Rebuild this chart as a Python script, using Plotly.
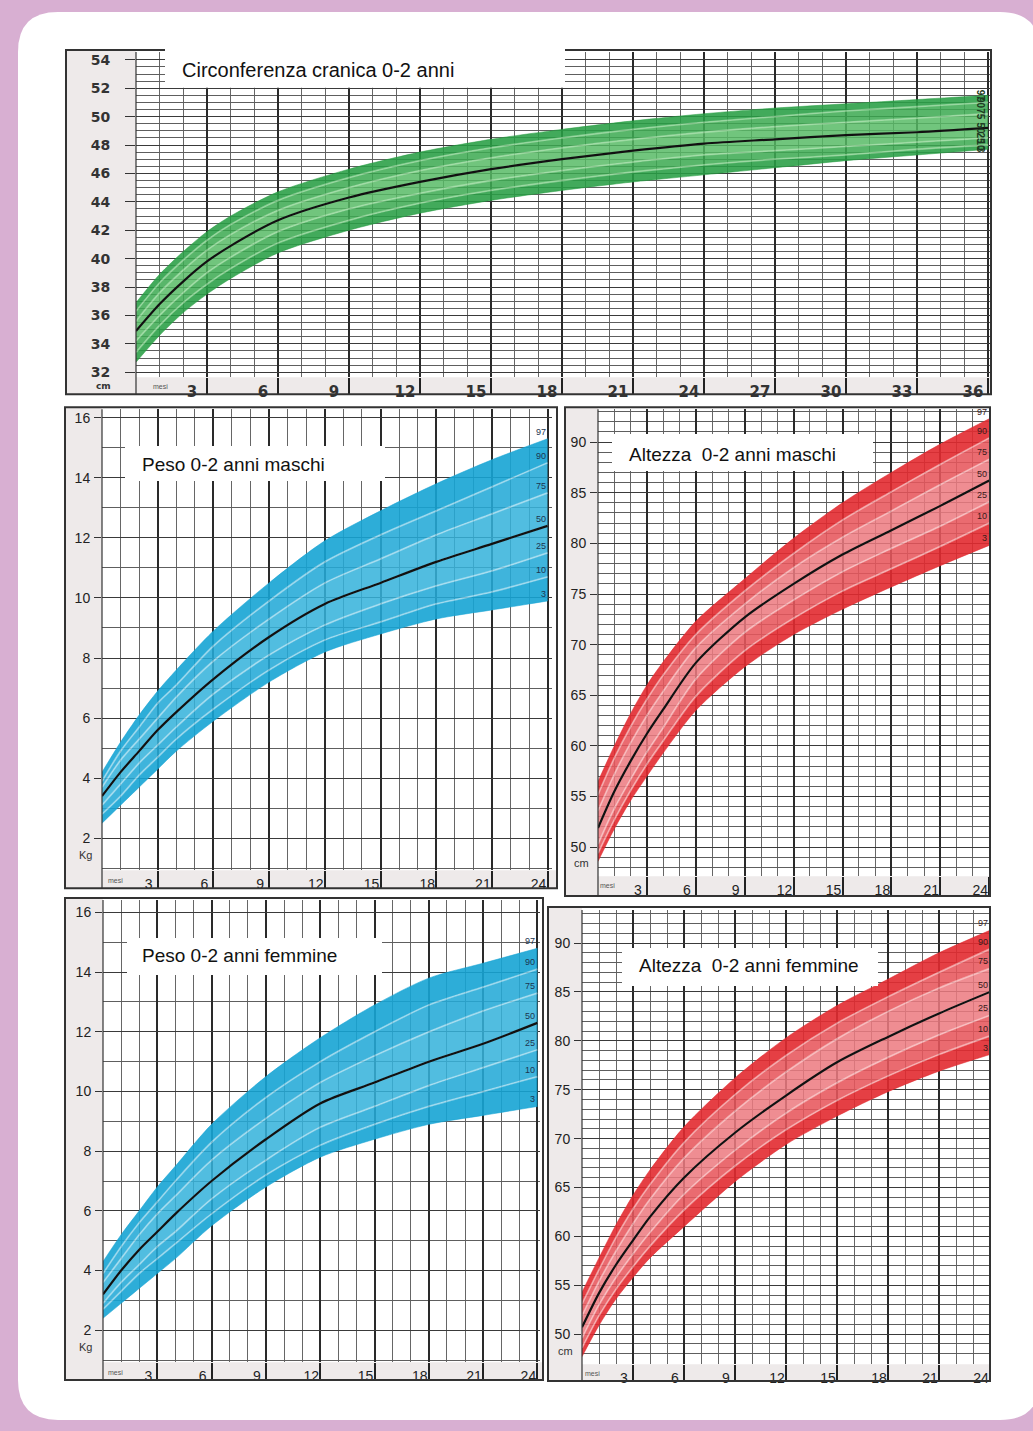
import plotly.graph_objects as go

W, H = 1033, 1431

# ----------------------------- data -----------------------------
percentiles = ["3", "10", "25", "50", "75", "90", "97"]

# Circonferenza cranica (cm), mesi 0-36
head_months = [0, 1, 2, 3, 4, 6, 9, 12, 15, 18, 21, 24, 27, 30, 33, 36]
head_p3 = [32.7, 34.6, 36.2, 37.5, 38.6, 40.4, 42.0, 43.2, 44.1, 44.8, 45.4, 45.9, 46.4, 46.9, 47.3, 47.7]
head_p10 = [33.4, 35.3, 36.9, 38.2, 39.3, 41.1, 42.7, 43.9, 44.8, 45.5, 46.1, 46.6, 47.0, 47.3, 47.7, 48.0]
head_p25 = [34.2, 36.0, 37.6, 39.0, 40.1, 41.9, 43.5, 44.6, 45.5, 46.2, 46.8, 47.3, 47.6, 47.9, 48.2, 48.5]
head_p50 = [34.9, 36.8, 38.4, 39.8, 40.9, 42.7, 44.3, 45.4, 46.3, 47.0, 47.6, 48.1, 48.4, 48.7, 48.9, 49.2]
head_p75 = [35.6, 37.6, 39.2, 40.6, 41.7, 43.4, 45.0, 46.2, 47.1, 47.8, 48.4, 48.9, 49.3, 49.6, 49.9, 50.2]
head_p90 = [36.3, 38.3, 39.9, 41.3, 42.4, 44.1, 45.7, 46.9, 47.8, 48.5, 49.1, 49.6, 50.0, 50.4, 50.7, 51.0]
head_p97 = [36.9, 38.9, 40.5, 41.9, 43.0, 44.7, 46.3, 47.5, 48.4, 49.1, 49.7, 50.2, 50.6, 50.9, 51.2, 51.5]

months = [0, 1, 2, 3, 4, 6, 9, 12, 15, 18, 21, 24]

# Peso maschi (kg)
pm_p3 = [2.5, 3.1, 3.7, 4.3, 4.9, 5.9, 7.2, 8.2, 8.8, 9.3, 9.6, 9.9]
pm_p10 = [2.8, 3.4, 4.1, 4.7, 5.3, 6.3, 7.6, 8.6, 9.2, 9.8, 10.2, 10.7]
pm_p25 = [3.1, 3.8, 4.5, 5.1, 5.7, 6.8, 8.1, 9.1, 9.8, 10.4, 10.9, 11.5]
pm_p50 = [3.4, 4.2, 4.9, 5.6, 6.2, 7.3, 8.7, 9.8, 10.5, 11.2, 11.8, 12.4]
pm_p75 = [3.7, 4.6, 5.3, 6.0, 6.7, 7.9, 9.3, 10.5, 11.3, 12.1, 12.8, 13.5]
pm_p90 = [3.9, 4.9, 5.7, 6.5, 7.1, 8.4, 9.9, 11.2, 12.1, 12.9, 13.7, 14.5]
pm_p97 = [4.2, 5.2, 6.1, 6.9, 7.6, 8.9, 10.5, 11.9, 12.9, 13.8, 14.6, 15.3]

# Altezza maschi (cm)
am_p3 = [48.6, 51.8, 54.6, 57.0, 59.3, 63.5, 67.8, 71.0, 73.5, 75.7, 77.8, 79.8]
am_p10 = [49.4, 52.7, 55.6, 58.2, 60.5, 64.9, 69.4, 72.6, 75.3, 77.5, 79.7, 82.0]
am_p25 = [50.3, 53.8, 56.7, 59.4, 61.8, 66.6, 71.2, 74.4, 77.2, 79.5, 81.7, 84.1]
am_p50 = [51.9, 55.5, 58.5, 61.2, 63.6, 68.2, 72.7, 76.0, 78.9, 81.3, 83.7, 86.2]
am_p75 = [53.6, 57.2, 60.3, 63.0, 65.4, 69.7, 74.0, 77.6, 80.6, 83.2, 85.8, 88.3]
am_p90 = [55.2, 58.8, 61.9, 64.6, 67.0, 71.0, 75.3, 79.0, 82.3, 85.1, 87.8, 90.4]
am_p97 = [56.5, 60.0, 63.2, 66.0, 68.3, 72.3, 76.5, 80.5, 84.0, 87.0, 89.8, 92.3]

# Peso femmine (kg)
pf_p3 = [2.4, 2.9, 3.4, 3.9, 4.4, 5.5, 6.8, 7.8, 8.4, 8.9, 9.2, 9.5]
pf_p10 = [2.7, 3.3, 3.9, 4.4, 4.9, 5.9, 7.2, 8.2, 8.9, 9.5, 10.0, 10.5]
pf_p25 = [2.9, 3.6, 4.2, 4.8, 5.3, 6.4, 7.7, 8.8, 9.5, 10.2, 10.8, 11.4]
pf_p50 = [3.2, 4.0, 4.7, 5.3, 5.9, 7.0, 8.4, 9.6, 10.3, 11.0, 11.6, 12.3]
pf_p75 = [3.6, 4.4, 5.2, 5.9, 6.5, 7.7, 9.1, 10.3, 11.2, 12.0, 12.7, 13.3]
pf_p90 = [3.9, 4.8, 5.6, 6.3, 7.0, 8.3, 9.8, 11.0, 12.0, 12.9, 13.5, 14.1]
pf_p97 = [4.3, 5.2, 6.0, 6.8, 7.5, 8.9, 10.5, 11.8, 12.9, 13.8, 14.3, 14.8]

# Altezza femmine (cm)
af_p3 = [47.7, 50.9, 53.6, 55.8, 57.8, 61.0, 65.6, 69.4, 72.3, 74.8, 76.9, 78.6]
af_p10 = [48.6, 51.9, 54.6, 56.9, 59.0, 62.7, 67.2, 70.9, 73.9, 76.4, 78.6, 80.5]
af_p25 = [49.6, 53.0, 55.8, 58.2, 60.4, 64.3, 68.8, 72.6, 75.7, 78.3, 80.6, 82.6]
af_p50 = [50.7, 54.2, 57.1, 59.6, 62.0, 66.0, 70.6, 74.4, 77.8, 80.4, 82.8, 85.0]
af_p75 = [51.9, 55.4, 58.5, 61.3, 63.8, 68.0, 72.8, 76.8, 80.2, 83.0, 85.4, 87.4]
af_p90 = [53.1, 56.6, 59.9, 62.8, 65.3, 69.6, 74.5, 78.5, 81.8, 84.5, 87.0, 89.4]
af_p97 = [54.3, 57.8, 61.2, 64.2, 66.8, 71.2, 76.2, 80.3, 83.6, 86.3, 89.0, 91.3]

head_ticks = [32, 34, 36, 38, 40, 42, 44, 46, 48, 50, 52, 54]
weight_ticks = [2, 4, 6, 8, 10, 12, 14, 16]
height_ticks = [50, 55, 60, 65, 70, 75, 80, 85, 90]
month_ticks_36 = [3, 6, 9, 12, 15, 18, 21, 24, 27, 30, 33, 36]
month_ticks_24 = [3, 6, 9, 12, 15, 18, 21, 24]

titles = ["Circonferenza cranica 0-2 anni", "Peso 0-2 anni maschi",
          "Altezza  0-2 anni maschi", "Peso 0-2 anni femmine",
          "Altezza  0-2 anni femmine"]
unit_labels = ["cm", "Kg", "cm", "Kg", "cm"]

# ----------------------------- geometry (pixels) -----------------------------
def fx(px):
    return px / W


def fy(py):
    return 1 - py / H


charts = [
    dict(xs=head_months, curves=[head_p3, head_p10, head_p25, head_p50, head_p75, head_p90, head_p97],
         pal="green", plot=(136, 52, 991, 378), m0=136, ppm=71 / 3, vref=32, vref_py=373, ppu=14.23,
         frame=(66, 50, 991, 395), ticks_y=head_ticks, ticks_x=month_ticks_36, y_minor=0.5,
         title_box=(165, 49, 565, 88), title_xy=(180, 70), unit_xy=(103, 387), mesi_xy=(160, 387),
         big=True),
    dict(xs=months, curves=[pm_p3, pm_p10, pm_p25, pm_p50, pm_p75, pm_p90, pm_p97],
         pal="blue", plot=(102, 410, 552, 872), m0=102, ppm=55.7 / 3, vref=2, vref_py=840, ppu=30.1,
         frame=(65, 408, 557, 890), ticks_y=weight_ticks, ticks_x=month_ticks_24, y_minor=1,
         title_box=(125, 447, 385, 482), title_xy=(140, 465), unit_xy=(85, 857), mesi_xy=(115, 882),
         big=False),
    dict(xs=months, curves=[am_p3, am_p10, am_p25, am_p50, am_p75, am_p90, am_p97],
         pal="red", plot=(598, 410, 990, 878), m0=598, ppm=48.9 / 3, vref=50, vref_py=849, ppu=10.15,
         frame=(565, 408, 990, 898), ticks_y=height_ticks, ticks_x=month_ticks_24, y_minor=1,
         title_box=(612, 435, 873, 472), title_xy=(627, 455), unit_xy=(581, 865), mesi_xy=(607, 887),
         big=False),
    dict(xs=months, curves=[pf_p3, pf_p10, pf_p25, pf_p50, pf_p75, pf_p90, pf_p97],
         pal="blue", plot=(103, 902, 540, 1365), m0=103, ppm=54.3 / 3, vref=2, vref_py=1333, ppu=29.9,
         frame=(65, 900, 543, 1383), ticks_y=weight_ticks, ticks_x=month_ticks_24, y_minor=1,
         title_box=(127, 940, 382, 977), title_xy=(140, 958), unit_xy=(85, 1350), mesi_xy=(115, 1375),
         big=False),
    dict(xs=months, curves=[af_p3, af_p10, af_p25, af_p50, af_p75, af_p90, af_p97],
         pal="red", plot=(582, 912, 990, 1367), m0=582, ppm=51 / 3, vref=50, vref_py=1337, ppu=9.8,
         frame=(548, 909, 990, 1384), ticks_y=height_ticks, ticks_x=month_ticks_24, y_minor=1,
         title_box=(622, 950, 878, 988), title_xy=(637, 968), unit_xy=(565, 1354), mesi_xy=(592, 1376),
         big=False),
]

palettes = {
    "green": dict(outer="rgba(40,158,68,0.88)", mid="rgba(60,170,82,0.86)", inner="rgba(86,186,100,0.84)",
                  stripe="rgba(190,235,190,0.55)", text="#1d3a22"),
    "blue": dict(outer="rgba(22,164,212,0.90)", mid="rgba(36,170,215,0.88)", inner="rgba(52,178,219,0.86)",
                 stripe="rgba(255,255,255,0.42)", text="#1c3550"),
    "red": dict(outer="rgba(226,42,48,0.90)", mid="rgba(231,86,92,0.88)", inner="rgba(236,122,128,0.86)",
                stripe="rgba(255,230,230,0.5)", text="#3a1a1a"),
}

STRIP = "#eeeaea"
PLOTBG = "#fbf3f3"
FONT = "Liberation Sans, Arial, sans-serif"

fig = go.Figure()
shapes = []
annotations = []

# white rounded panel
x0, y0, x1, y1, r = 18, 12, 1040, 1423, 40
panel = (f"M {fx(x0 + r)},{fy(y0)} L {fx(x1 - r)},{fy(y0)} Q {fx(x1)},{fy(y0)} {fx(x1)},{fy(y0 + r)} "
         f"L {fx(x1)},{fy(y1 - r)} Q {fx(x1)},{fy(y1)} {fx(x1 - r)},{fy(y1)} "
         f"L {fx(x0 + r)},{fy(y1)} Q {fx(x0)},{fy(y1)} {fx(x0)},{fy(y1 - r)} "
         f"L {fx(x0)},{fy(y0 + r)} Q {fx(x0)},{fy(y0)} {fx(x0 + r)},{fy(y0)} Z")
shapes.append(dict(type="path", path=panel, xref="paper", yref="paper", fillcolor="white",
                   line=dict(width=0), layer="below"))

layout_axes = {}
for i, c in enumerate(charts, start=1):
    s = "" if i == 1 else str(i)
    xa, ya = "x" + s, "y" + s
    pal = palettes[c["pal"]]
    L, T, R, B = c["plot"]
    FL, FT, FR, FB = c["frame"]

    # grey label strips (left column and bottom row)
    shapes.append(dict(type="rect", xref="paper", yref="paper", x0=fx(FL), x1=fx(L), y0=fy(FB), y1=fy(FT),
                       fillcolor=STRIP, line=dict(width=0), layer="below"))
    shapes.append(dict(type="rect", xref="paper", yref="paper", x0=fx(L), x1=fx(FR), y0=fy(FB), y1=fy(B),
                       fillcolor=STRIP, line=dict(width=0), layer="below"))

    # percentile bands
    fills = [None, pal["outer"], pal["mid"], pal["inner"], pal["inner"], pal["mid"], pal["outer"]]
    for k, (pname, yv) in enumerate(zip(percentiles, c["curves"])):
        edge = k in (0, 6)
        fig.add_trace(go.Scatter(
            x=c["xs"], y=yv, mode="lines", name="P" + pname,
            line=dict(color=pal["outer"] if edge else pal["stripe"], width=0.6 if edge else 1.8,
                      shape="spline", smoothing=0.8),
            fill=None if k == 0 else "tonexty", fillcolor=fills[k],
            xaxis=xa, yaxis=ya, showlegend=False, hoverinfo="skip"))
    fig.add_trace(go.Scatter(
        x=c["xs"], y=c["curves"][3], mode="lines", name="P50",
        line=dict(color="#111111", width=2.2, shape="spline", smoothing=0.8),
        xaxis=xa, yaxis=ya, showlegend=False, hoverinfo="skip"))

    xr = [(L - c["m0"]) / c["ppm"], (R - c["m0"]) / c["ppm"]]
    yr = [c["vref"] - (B - c["vref_py"]) / c["ppu"], c["vref"] + (c["vref_py"] - T) / c["ppu"]]
    row_h = FB - B

    if c["big"]:
        xfont = dict(family="DejaVu Sans", size=15, color="#333", weight="bold")
        yfont = dict(family="DejaVu Sans", size=14, color="#333", weight="bold")
        xshift, ylen, ystand = -15, 10, 12
    else:
        xfont = dict(family=FONT, size=14, color="#222")
        yfont = dict(family=FONT, size=14, color="#222")
        xshift, ylen, ystand = -9, 7, 1

    layout_axes["xaxis" + s] = dict(
        domain=[fx(L), fx(R)], range=xr, anchor=ya, tickmode="array", tickvals=c["ticks_x"],
        ticktext=[str(v) for v in c["ticks_x"]], ticks="outside", ticklen=row_h, tickwidth=1.6,
        tickcolor="#222", tickfont=xfont, ticklabelstandoff=-row_h + 1, ticklabelshift=xshift,
        showgrid=True, gridcolor="#2a2a2a", gridwidth=1.5,
        minor=dict(dtick=1, tick0=0, showgrid=True, gridcolor="#666", gridwidth=0.8),
        zeroline=False, showline=False, fixedrange=True)
    layout_axes["yaxis" + s] = dict(
        domain=[fy(B), fy(T)], range=yr, anchor=xa, tickmode="array", tickvals=c["ticks_y"],
        ticktext=[str(v) for v in c["ticks_y"]], ticks="outside", ticklen=ylen, tickwidth=1.2,
        tickcolor="#333", tickfont=yfont, ticklabelstandoff=ystand,
        showgrid=True, gridcolor="#3a3a3a", gridwidth=1.1,
        minor=dict(dtick=c["y_minor"], tick0=0, showgrid=True, gridcolor="#5e5e5e", gridwidth=0.8),
        zeroline=False, showline=False, fixedrange=True)
    # short marks on the outer edge of the label column
    layout_axes["yaxis" + str(i + 5)] = dict(
        overlaying=ya, anchor="free", position=fx(FL + 1), side="left", range=yr,
        tickmode="array", tickvals=c["ticks_y"], ticks="inside", ticklen=7, tickwidth=1.2,
        tickcolor="#333", showticklabels=False, showgrid=False, zeroline=False, showline=False,
        fixedrange=True)

    # frame
    shapes.append(dict(type="rect", xref="paper", yref="paper", x0=fx(FL), x1=fx(FR), y0=fy(FB), y1=fy(FT),
                       fillcolor="rgba(0,0,0,0)", line=dict(color="#333", width=2), layer="above"))
    shapes.append(dict(type="line", xref="paper", yref="paper", x0=fx(L), x1=fx(L), y0=fy(FB), y1=fy(T),
                       line=dict(color="#333", width=1.2), layer="above"))

    # title box + title
    bx0, by0, bx1, by1 = c["title_box"]
    shapes.append(dict(type="rect", xref="paper", yref="paper", x0=fx(bx0), x1=fx(bx1), y0=fy(by1), y1=fy(by0),
                       fillcolor="white", line=dict(width=0), layer="above"))
    tx, ty = c["title_xy"]
    annotations.append(dict(text=titles[i - 1], xref="paper", yref="paper", x=fx(tx), y=fy(ty),
                            xanchor="left", yanchor="middle", showarrow=False,
                            font=dict(family=FONT, size=20 if c["big"] else 19, color="#111")))

    # unit + "mesi"
    ux, uy = c["unit_xy"]
    annotations.append(dict(text=unit_labels[i - 1], xref="paper", yref="paper", x=fx(ux), y=fy(uy),
                            xanchor="center", yanchor="middle", showarrow=False,
                            font=dict(family="DejaVu Sans" if c["big"] else FONT, size=9 if c["big"] else 11,
                                      color="#333", weight="bold" if c["big"] else "normal")))
    mx, my = c["mesi_xy"]
    annotations.append(dict(text="mesi", xref="paper", yref="paper", x=fx(mx), y=fy(my),
                            xanchor="center", yanchor="middle", showarrow=False,
                            font=dict(family=FONT, size=7, color="#555")))

    # percentile labels at the end of the curves
    for pname, yv in zip(percentiles, c["curves"]):
        if c["big"]:
            annotations.append(dict(text=pname, xref=xa, yref=ya, x=c["xs"][-1], y=yv[-1],
                                    xanchor="right", yanchor="middle", showarrow=False, textangle=90,
                                    font=dict(family=FONT, size=10, color=pal["text"], weight="bold")))
        else:
            annotations.append(dict(text=pname, xref=xa, yref=ya, x=c["xs"][-1], y=yv[-1], yshift=7,
                                    xanchor="right", yanchor="middle", showarrow=False,
                                    font=dict(family=FONT, size=9, color=pal["text"])))

fig.update_layout(
    width=W, height=H, margin=dict(l=0, r=0, t=0, b=0),
    paper_bgcolor="#d8afd2", plot_bgcolor=PLOTBG,
    shapes=shapes, annotations=annotations, showlegend=False,
    **layout_axes)

fig.write_html(
    "out.html",
    config={"displayModeBar": False},
    post_script=("document.documentElement.style.margin='0';document.body.style.margin='0';"
                 "document.documentElement.style.overflow='hidden';document.body.style.overflow='hidden';"))
